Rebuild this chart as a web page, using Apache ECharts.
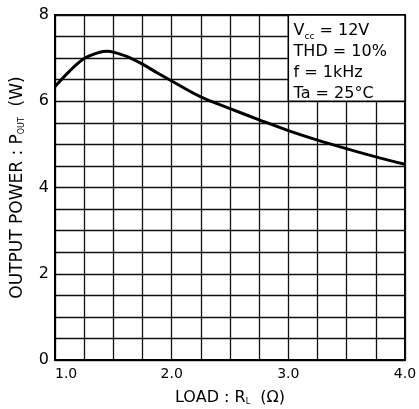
<!DOCTYPE html>
<html>
<head>
<meta charset="utf-8">
<script src="https://cdn.jsdelivr.net/npm/echarts@6/dist/echarts.min.js"></script>
<style>
html,body{margin:0;padding:0;background:#fff;}
#chart{width:419px;height:409px;}
</style>
</head>
<body>
<div id="chart"></div>
<script>
// Data
const loadR = [1.0, 1.125, 1.25, 1.375, 1.45, 1.5, 1.625, 1.75, 1.875, 2.0, 2.25, 2.5, 2.75, 3.0, 3.25, 3.5, 3.75, 4.0];
const powerW = [6.34, 6.70, 6.99, 7.13, 7.16, 7.14, 7.03, 6.86, 6.66, 6.47, 6.10, 5.83, 5.57, 5.32, 5.10, 4.90, 4.71, 4.54];
const xTicks = [1, 2, 3, 4];
const yTicks = [0, 2, 4, 6, 8];
const noteLines = ['{b|V}{s|cc}{b| = 12V}', '{b|THD = 10%}', '{b|f = 1kHz}', '{b|Ta = 25°C}'];

const FONT = 'DejaVu Sans';
const chart = echarts.init(document.getElementById('chart'), null, {renderer: 'canvas'});
const points = loadR.map((r, i) => [r, powerW[i]]);

chart.setOption({
  animation: false,
  backgroundColor: '#fff',
  grid: {left: 55, right: 14, top: 15, bottom: 49, outerBoundsMode: 'none', containLabel: false,
         show: true, borderColor: '#000', borderWidth: 2, backgroundColor: 'transparent'},
  xAxis: {
    type: 'value', min: xTicks[0], max: xTicks[xTicks.length - 1], interval: 1,
    axisLine: {show: true, lineStyle: {color: '#000', width: 2}},
    axisTick: {show: false},
    splitLine: {show: true, lineStyle: {color: '#111', width: 1.3}},
    minorTick: {show: false, splitNumber: 4},
    minorSplitLine: {show: true, lineStyle: {color: '#111', width: 1.3}},
    axisLabel: {
      color: '#000', fontFamily: FONT, fontSize: 14, margin: 7,
      alignMinLabel: 'left',
      formatter: v => v.toFixed(1)
    },
    name: 'LOAD : R{s|L}  (Ω)', nameLocation: 'middle', nameGap: 30,
    nameTextStyle: {color: '#000', fontFamily: FONT, fontSize: 16, rich: {s: {fontSize: 8, fontFamily: FONT, color: '#000', verticalAlign: 'bottom', padding: [6, 0, 0, 0]}}}
  },
  yAxis: {
    type: 'value', min: yTicks[0], max: yTicks[yTicks.length - 1], interval: 2,
    axisLine: {show: true, lineStyle: {color: '#000', width: 2}},
    axisTick: {show: false},
    splitLine: {show: true, lineStyle: {color: '#111', width: 1.3}},
    minorTick: {show: false, splitNumber: 4},
    minorSplitLine: {show: true, lineStyle: {color: '#111', width: 1.3}},
    axisLabel: {color: '#000', fontFamily: FONT, fontSize: 16, margin: 6},
    name: 'OUTPUT POWER : P{s|OUT}  (W)', nameLocation: 'middle', nameGap: 29,
    nameTextStyle: {color: '#000', fontFamily: FONT, fontSize: 17, rich: {s: {fontSize: 8, fontFamily: FONT, color: '#000', verticalAlign: 'bottom', padding: [6, 0, 0, 0]}}}
  },
  series: [{
    type: 'line',
    data: points,
    smooth: 0.35,
    symbol: 'none',
    z: 3,
    lineStyle: {color: '#000', width: 3},
    markArea: {
      silent: true,
      z: 10,
      itemStyle: {color: '#ffffff', opacity: 1, borderColor: '#000', borderWidth: 1.5},
      emphasis: {disabled: true},
      label: {
        show: true, position: 'insideTopLeft', distance: 6,
        formatter: noteLines.join('\n'),
        rich: {
          b: {fontSize: 16, fontFamily: FONT, color: '#000', lineHeight: 21},
          s: {fontSize: 9, fontFamily: FONT, color: '#000', lineHeight: 21, verticalAlign: 'bottom', padding: [5, 0, 0, 0]}
        }
      },
      data: [[{coord: [3, 8]}, {coord: [4, 6]}]]
    }
  }]
});
</script>
</body>
</html>
